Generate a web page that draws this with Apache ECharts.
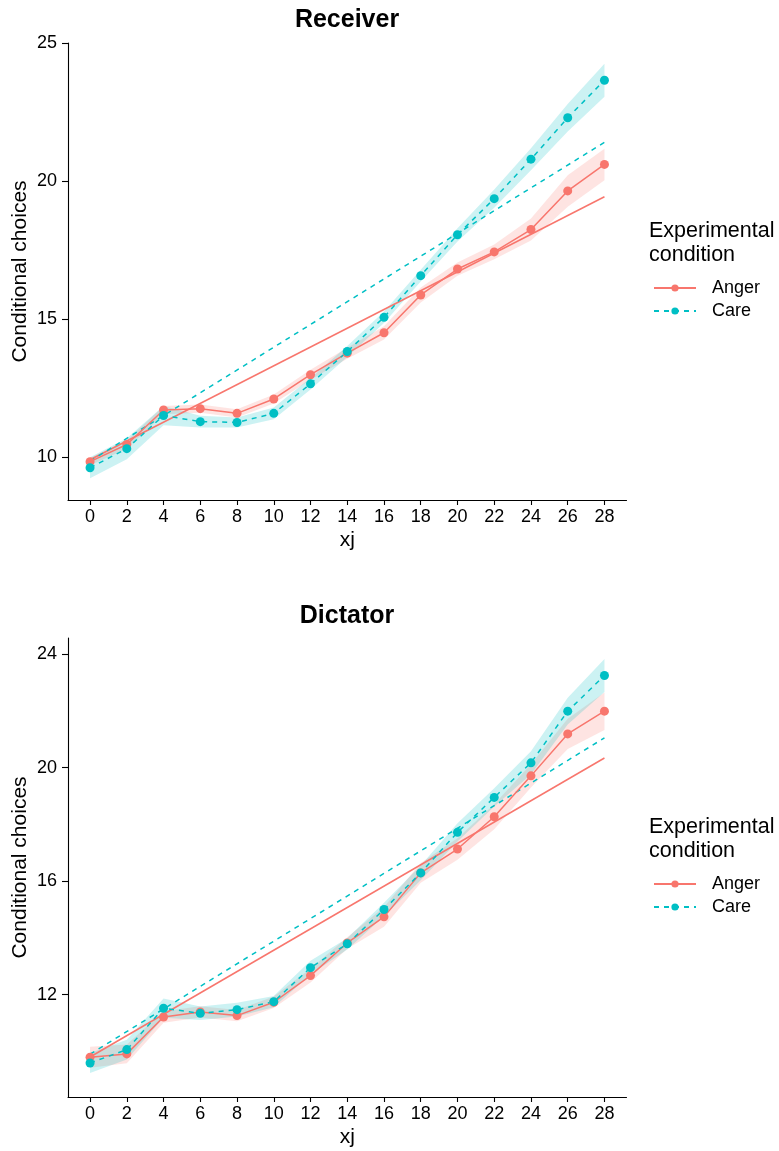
<!DOCTYPE html>
<html>
<head>
<meta charset="utf-8">
<script src="https://cdn.jsdelivr.net/npm/echarts@6/dist/echarts.min.js"></script>
<style>
html,body{margin:0;padding:0;background:#fff;}
#c{width:779px;height:1151px;}
</style>
</head>
<body>
<div id="c"></div>
<script>
// ---- data ----
const xj = [0, 2, 4, 6, 8, 10, 12, 14, 16, 18, 20, 22, 24, 26, 28];
const xTicks = [0, 2, 4, 6, 8, 10, 12, 14, 16, 18, 20, 22, 24, 26, 28];

const recvTicks = [10, 15, 20, 25];
const recvAnger = [9.83, 10.45, 11.7, 11.75, 11.58, 12.1, 12.98, 13.76, 14.5, 15.87, 16.81, 17.43, 18.24, 19.64, 20.6];
const recvCare = [9.61, 10.3, 11.5, 11.28, 11.25, 11.58, 12.65, 13.82, 15.06, 16.57, 18.05, 19.36, 20.79, 22.29, 23.65];
const recvAngerCI = [0.13, 0.15, 0.15, 0.15, 0.15, 0.16, 0.18, 0.2, 0.24, 0.27, 0.24, 0.27, 0.4, 0.57, 0.57];
const recvCareCI = [0.38, 0.38, 0.35, 0.21, 0.18, 0.21, 0.21, 0.2, 0.21, 0.21, 0.24, 0.33, 0.4, 0.5, 0.6];
const fitX = [0, 28];
const recvAngerFit = [9.9, 19.43];
const recvCareFit = [9.85, 21.4];

const dictTicks = [12, 16, 20, 24];
const dictAnger = [9.79, 9.91, 11.21, 11.39, 11.26, 11.73, 12.67, 13.82, 14.74, 16.29, 17.13, 18.27, 19.71, 21.19, 21.99];
const dictCare = [9.59, 10.06, 11.52, 11.34, 11.47, 11.75, 12.95, 13.79, 15.0, 16.29, 17.72, 18.95, 20.17, 21.99, 23.25];
const dictAngerCI = [0.37, 0.33, 0.2, 0.2, 0.2, 0.2, 0.24, 0.2, 0.35, 0.35, 0.38, 0.44, 0.41, 0.53, 0.66];
const dictCareCI = [0.35, 0.35, 0.34, 0.24, 0.24, 0.2, 0.24, 0.2, 0.24, 0.26, 0.32, 0.32, 0.41, 0.47, 0.58];
const dictAngerFit = [9.8, 20.34];
const dictCareFit = [9.9, 21.05];

// ---- styles ----
const FONT = '"Liberation Sans", Arial, sans-serif';
const RED = '#F8766D';
const CYAN = '#00BFC4';
const DASH = [5, 5];

// confidence ribbon drawn as one polygon through the axis scales
function ribbon(id, gi, mean, hw, color) {
  const rows = xj.map((x, i) => [x, mean[i] - hw[i], mean[i] + hw[i]]);
  return {
    name: id, type: 'custom', xAxisIndex: gi, yAxisIndex: gi, silent: true, z: 1,
    encode: { x: 0, y: [1, 2] },
    data: rows,
    renderItem: function (params, api) {
      if (params.dataIndex !== 0) return null;
      const upper = rows.map(r => api.coord([r[0], r[2]]));
      const lower = rows.map(r => api.coord([r[0], r[1]])).reverse();
      return {
        type: 'polygon',
        shape: { points: upper.concat(lower) },
        style: { fill: color, opacity: 0.2 }
      };
    }
  };
}
function fit(id, gi, vals, color, type) {
  return { name: id, type: 'line', xAxisIndex: gi, yAxisIndex: gi, silent: true,
    data: fitX.map((x, i) => [x, vals[i]]), symbol: 'none',
    lineStyle: { color: color, width: 1.5, type: type }, z: 2 };
}
function main(name, gi, vals, color, type) {
  return { name: name, type: 'line', xAxisIndex: gi, yAxisIndex: gi,
    data: xj.map((x, i) => [x, vals[i]]), symbol: 'circle', symbolSize: 9,
    itemStyle: { color: color }, lineStyle: { color: color, width: 1.5, type: type }, z: 3 };
}

function xAxis(gi) {
  return {
    type: 'value', gridIndex: gi, min: -1.2, max: 29.2,
    name: 'xj', nameLocation: 'middle', nameGap: 30,
    nameTextStyle: { fontSize: 21, color: '#000', fontFamily: FONT },
    axisLine: { show: true, onZero: false, lineStyle: { color: '#000', width: 1.1 } },
    axisTick: { show: true, length: 5, customValues: xTicks, lineStyle: { color: '#000', width: 1.1 } },
    axisLabel: { customValues: xTicks, fontSize: 18, color: '#000', fontFamily: FONT, margin: 8 },
    splitLine: { show: false }
  };
}
function yAxis(gi, min, max, ticks) {
  return {
    type: 'value', gridIndex: gi, min: min, max: max,
    name: 'Conditional choices', nameLocation: 'middle', nameGap: 37, nameMoveOverlap: false,
    nameTextStyle: { fontSize: 21, color: '#000', fontFamily: FONT },
    axisLine: { show: true, onZero: false, lineStyle: { color: '#000', width: 1.1 } },
    axisTick: { show: true, length: 6, customValues: ticks, lineStyle: { color: '#000', width: 1.1 } },
    axisLabel: { customValues: ticks, fontSize: 18, color: '#000', fontFamily: FONT, margin: 11 },
    splitLine: { show: false }
  };
}
function legend(top) {
  return {
    data: ['Anger', 'Care'], orient: 'vertical', left: 653, top: top, padding: 0,
    itemWidth: 42, itemHeight: 9, itemGap: 5, selectedMode: false,
    textStyle: { fontSize: 18, color: '#000', fontFamily: FONT, padding: [0, 0, 0, 11] }
  };
}
function txt(x, y, text, font) {
  return { type: 'text', x: x, y: y,
    style: { text: text, font: font, fill: '#000', align: 'left', verticalAlign: 'middle',
             textAlign: 'left', textVerticalAlign: 'middle' } };
}
function ctxt(x, y, text, font) {
  return { type: 'text', x: x, y: y,
    style: { text: text, font: font, fill: '#000', align: 'center', verticalAlign: 'middle',
             textAlign: 'center', textVerticalAlign: 'middle' } };
}

const chart = echarts.init(document.getElementById('c'), null, { renderer: 'canvas' });
chart.setOption({
  animation: false,
  backgroundColor: '#fff',
  grid: [
    { left: 68, top: 43, width: 558.5, height: 457, outerBoundsMode: 'none', containLabel: false },
    { left: 68, top: 638, width: 558.5, height: 459, outerBoundsMode: 'none', containLabel: false }
  ],
  xAxis: [xAxis(0), xAxis(1)],
  yAxis: [yAxis(0, 8.44, 25.0, recvTicks), yAxis(1, 8.39, 24.57, dictTicks)],
  legend: [legend(279), legend(875)],
  graphic: [
    ctxt(347, 20, 'Receiver', 'bold 25px ' + FONT),
    ctxt(347, 616, 'Dictator', 'bold 25px ' + FONT),
    txt(649, 231, 'Experimental', '21.5px ' + FONT),
    txt(649, 255, 'condition', '21.5px ' + FONT),
    txt(649, 827, 'Experimental', '21.5px ' + FONT),
    txt(649, 851, 'condition', '21.5px ' + FONT)
  ],
  series: [
    ribbon('rA', 0, recvAnger, recvAngerCI, RED),
    ribbon('rC', 0, recvCare, recvCareCI, CYAN),
    ribbon('dA', 1, dictAnger, dictAngerCI, RED),
    ribbon('dC', 1, dictCare, dictCareCI, CYAN),
    fit('rAfit', 0, recvAngerFit, RED, 'solid'),
    fit('rCfit', 0, recvCareFit, CYAN, DASH),
    fit('dAfit', 1, dictAngerFit, RED, 'solid'),
    fit('dCfit', 1, dictCareFit, CYAN, DASH),
    main('Anger', 0, recvAnger, RED, 'solid'),
    main('Care', 0, recvCare, CYAN, DASH),
    main('Anger', 1, dictAnger, RED, 'solid'),
    main('Care', 1, dictCare, CYAN, DASH)
  ]
});
</script>
</body>
</html>
